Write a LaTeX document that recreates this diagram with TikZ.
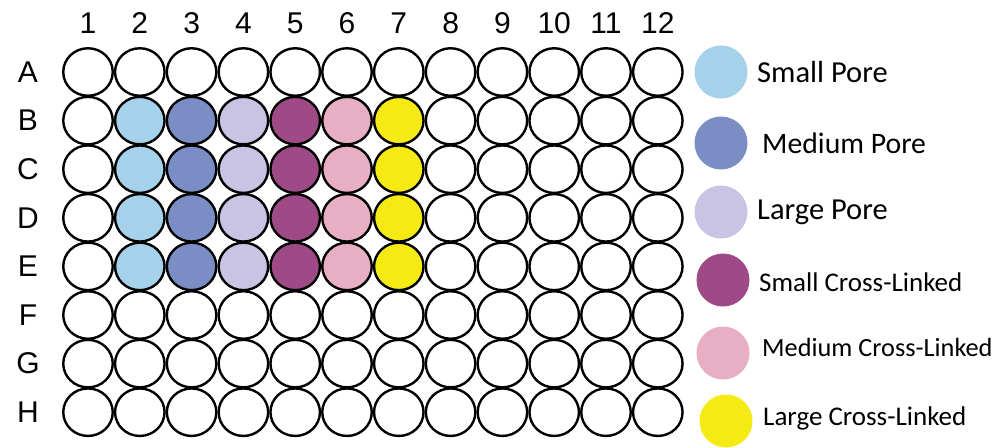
\documentclass[tikz,border=0pt]{standalone}
\usepackage{fontspec}
\setmainfont{Liberation Sans}
\newfontfamily\legendfont{Carlito}
\usetikzlibrary{shapes.geometric}

\definecolor{smallpore}{HTML}{A6D1EA}
\definecolor{mediumpore}{HTML}{7A8DC4}
\definecolor{largepore}{HTML}{C9C4E4}
\definecolor{smallcl}{HTML}{9E4A86}
\definecolor{mediumcl}{HTML}{E8AEC4}
\definecolor{largecl}{HTML}{F6EA14}

\begin{document}
\begin{tikzpicture}[x=1pt, y=-1pt,
    well/.style={draw, line width=2.4pt, ellipse, minimum width=49.5pt, minimum height=47.5pt, inner sep=0pt},
    key/.style={circle, minimum size=53pt, inner sep=0pt},
    keytext/.style={anchor=west, inner sep=0pt, font=\legendfont\fontsize{30.5}{32}\selectfont},
    keysmall/.style={keytext, font=\legendfont\fontsize{27}{28}\selectfont},
    axislabel/.style={inner sep=0pt, font=\fontsize{30}{31}\selectfont}
]
\useasboundingbox (0,0) rectangle (1000,447);

% plate
\foreach \c in {1,...,12}
  \node[axislabel] (col\c) at ({88+(\c-1)*51.8},23) {\c};
\foreach \r [count=\i] in {A,...,H} {
  \node[axislabel] (row\r) at (28,{72+(\i-1)*48.6}) {\r};
  \foreach \c/\fc in {1/white,2/smallpore,3/mediumpore,4/largepore,5/smallcl,6/mediumcl,7/largecl,8/white,9/white,10/white,11/white,12/white} {
    \pgfmathtruncatemacro\filled{(\i>1)&&(\i<6)}
    \ifnum\filled=1 \def\wc{\fc}\else\def\wc{white}\fi
    \node[well, fill=\wc] (\r\c) at ({88+(\c-1)*51.8},{72+(\i-1)*48.6}) {};
  }
}

% legend
\node[key, fill=smallpore] (k1) at (721,72) {};
\node[key, fill=mediumpore] (k2) at (721,143) {};
\node[key, fill=largepore] (k3) at (721,212) {};
\node[key, fill=smallcl] (k4) at (723,280) {};
\node[key, fill=mediumcl] (k5) at (723,353) {};
\node[key, fill=largecl] (k6) at (726,421) {};

\node[keytext] (t1) at (757,72) {Small Pore};
\node[keytext, font=\legendfont\fontsize{29.7}{31}\selectfont] (t2) at (762,143) {Medium Pore};
\node[keytext] (t3) at (757,212) {Large Pore};
\node[keysmall] (t4) at (759,282) {Small Cross-Linked};
\node[keysmall, font=\legendfont\fontsize{26.3}{28}\selectfont] (t5) at (762,347) {Medium Cross-Linked};
\node[keysmall] (t6) at (763,418) {Large Cross-Linked};
\end{tikzpicture}
\end{document}
